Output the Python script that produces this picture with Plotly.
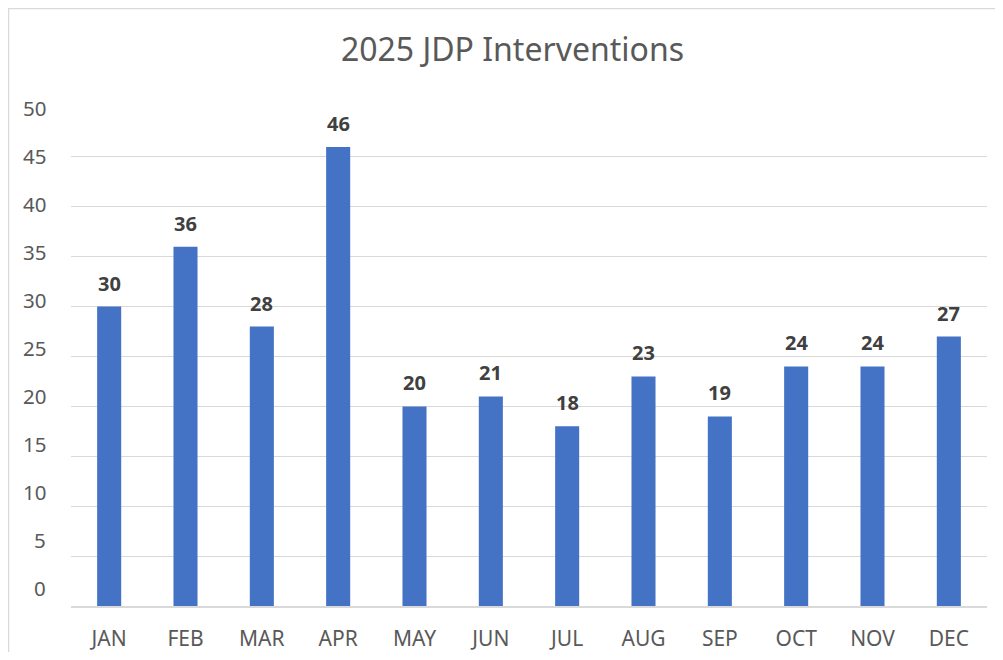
import plotly.graph_objects as go

# Aylık veri
months = ["JAN", "FEB", "MAR", "APR", "MAY", "JUN", "JUL", "AUG", "SEP", "OCT", "NOV", "DEC"]
interventions = [30, 36, 28, 46, 20, 21, 18, 23, 19, 24, 24, 27]
y_ticks = [0, 5, 10, 15, 20, 25, 30, 35, 40, 45, 50]

# Sayfa gövdesinde 8px kenar boşluğu var, figür pencereye sığacak şekilde küçültüldü
W, H = 987, 644
L, R, T, B = 63, 8, 99, 46
pw, ph = W - L - R, H - T - B
FONT = "Noto Sans"

fig = go.Figure(go.Bar(
    x=months,
    y=interventions,
    marker=dict(color="#4472C4", line=dict(width=0)),
    width=0.315,
))

# Çubuk etiketleri
for m, v in zip(months, interventions):
    fig.add_annotation(x=m, y=v, text=str(v), showarrow=False,
                       yanchor="bottom", yshift=8,
                       font=dict(family=FONT, size=20, color="#404040", weight="bold"))

# Y ekseni etiketleri: orijinalde ızgaradan biraz kaymış (0 -> 18px yukarıda, 9.6px/birim)
for t in y_ticks:
    fig.add_annotation(x=0, xref="paper", xanchor="right", xshift=-23,
                       y=(18 + 9.6 * t) / ph, yref="paper", yanchor="middle",
                       text=str(t), showarrow=False,
                       font=dict(family=FONT, size=20.5, color="#595959"))

fig.update_layout(
    width=W, height=H,
    margin=dict(l=L, r=R, t=T, b=B, autoexpand=False),
    paper_bgcolor="white",
    plot_bgcolor="white",
    font=dict(family=FONT, color="#595959"),
    title=dict(text="2025 JDP Interventions", x=504.5 / W, xref="container", xanchor="center",
               y=1 - 42 / H, yref="container", yanchor="middle",
               font=dict(size=32, color="#595959")),
    showlegend=False,
)

fig.update_xaxes(
    showline=True, linecolor="#D9D9D9", linewidth=2,
    tickfont=dict(size=21, color="#595959"),
    ticklabelstandoff=13,
    showgrid=False, automargin=False,
)
fig.update_yaxes(
    range=[0, 50], tickvals=y_ticks, showticklabels=False,
    showgrid=True, gridcolor="#D9D9D9", gridwidth=1,
    zeroline=False, showline=False, automargin=False,
)

# Grafik çerçevesi
fig.add_shape(type="rect", xref="paper", yref="paper",
              x0=(0.5 - L) / pw, x1=(W + 20 - L) / pw,
              y0=(H - B - (H + 20)) / ph, y1=(H - B - 0.5) / ph,
              line=dict(color="#D9D9D9", width=1.5), fillcolor="rgba(0,0,0,0)", layer="below")

fig.write_html("out.html")
